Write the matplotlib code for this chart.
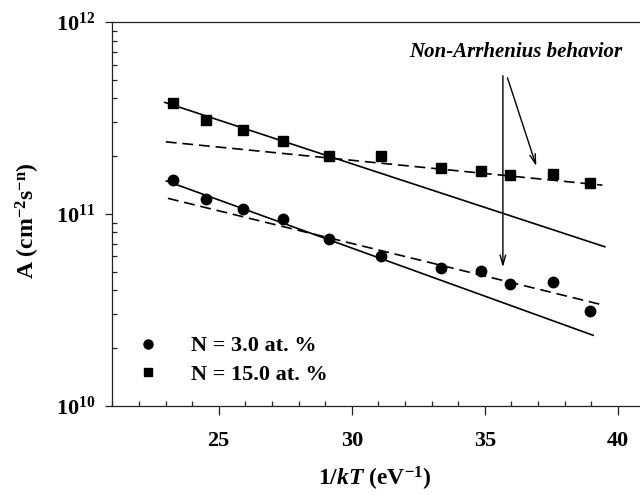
import numpy as np
import matplotlib
matplotlib.use("Agg")
import matplotlib.pyplot as plt
from matplotlib.ticker import FixedLocator, FixedFormatter, MultipleLocator, LogLocator, NullFormatter
from matplotlib.lines import Line2D

plt.rcParams["font.family"] = ["Liberation Serif", "DejaVu Serif"]
plt.rcParams["font.weight"] = "bold"
plt.rcParams["mathtext.fontset"] = "custom"
plt.rcParams["mathtext.rm"] = "Liberation Serif:bold"
plt.rcParams["mathtext.bf"] = "Liberation Serif:bold"
plt.rcParams["mathtext.it"] = "Liberation Serif:bold:italic"

# 1/kT (eV^-1) of each measurement
inv_kT = [23.29, 24.53, 25.90, 27.43, 29.16, 31.11, 33.35, 34.85, 35.93, 37.58, 38.94]
# pre-exponential factor A (cm^-2 s^-n)
A_n3 = [1.50e11, 1.19e11, 1.06e11, 9.34e10, 7.39e10, 6.01e10, 5.20e10, 5.05e10, 4.31e10, 4.43e10, 3.13e10]
A_n15 = [3.78e11, 3.07e11, 2.73e11, 2.40e11, 2.01e11, 2.01e11, 1.73e11, 1.67e11, 1.59e11, 1.62e11, 1.45e11]

# Arrhenius fits A = A0 * exp(-Ea / kT): (A0, Ea in eV, x start, x end, style)
fit_n15_solid = (4.23e12, 0.1048, 22.97, 39.51, "-")
fit_n15_dash = (4.92e11, 0.0317, 23.01, 39.42, "--")
fit_n3_solid = (2.12e12, 0.1155, 23.03, 39.07, "-")
fit_n3_dash = (7.34e11, 0.0783, 23.09, 39.30, "--")
fits = [fit_n15_solid, fit_n15_dash, fit_n3_solid, fit_n3_dash]

legend_labels = ["N = 3.0 at. %", "N = 15.0 at. %"]
x_ticks = [25, 30, 35, 40]
y_ticks = [1e10, 1e11, 1e12]
y_tick_labels = [r"$\mathbf{10^{10}}$", r"$\mathbf{10^{11}}$", r"$\mathbf{10^{12}}$"]

fig = plt.figure(figsize=(6.4, 4.95), dpi=100)
ax = fig.add_axes([0.1755, 0.1806, 0.873, 0.775])

for a0, ea, x0, x1, ls in fits:
    xs = np.linspace(x0, x1, 50)
    line, = ax.plot(xs, a0 * np.exp(-ea * xs), color="black", lw=1.2, ls=ls)
    if ls == "--":
        line.set_dashes((6.5, 3.5))

ax.plot(inv_kT, A_n3, "o", color="black", ms=7.5, ls="none")
ax.plot(inv_kT, A_n15, "s", color="black", ms=7.0, ls="none")

ax.set_yscale("log")
ax.set_xlim(21, 42)
ax.set_ylim(1e10, 1e12)

ax.spines["right"].set_visible(False)
for s in ["left", "bottom", "top"]:
    ax.spines[s].set_linewidth(0.9)
    ax.spines[s].set_color("#222222")

ax.xaxis.set_major_locator(FixedLocator(x_ticks))
ax.xaxis.set_minor_locator(MultipleLocator(1))
ax.yaxis.set_major_locator(FixedLocator(y_ticks))
ax.yaxis.set_major_formatter(FixedFormatter(y_tick_labels))
ax.yaxis.set_minor_locator(LogLocator(base=10, subs=np.arange(2, 10)))
ax.yaxis.set_minor_formatter(NullFormatter())

ax.tick_params(which="major", direction="out", length=5, width=0.9, color="#222222",
               labelsize=16, top=False, right=False)
ax.tick_params(axis="x", which="major", length=6.5, pad=12)
ax.tick_params(axis="y", which="major", pad=7)
ax.tick_params(which="minor", direction="in", length=3.5, width=0.9, color="#222222",
               top=False, right=False)
for lbl in ax.get_xticklabels():
    lbl.set_fontweight("bold")

# annotation arrows
ax.annotate("", xy=(35.68, 5.09e10), xytext=(35.68, 5.42e11),
            arrowprops=dict(arrowstyle="->,head_length=0.7,head_width=0.2", color="black", lw=1.0))
ax.annotate("", xy=(36.97, 1.716e11), xytext=(35.82, 5.28e11),
            arrowprops=dict(arrowstyle="->,head_length=0.7,head_width=0.2", color="black", lw=1.0))
ax.text(36.17, 6.95e11, "Non-Arrhenius behavior", ha="center", va="center",
        fontsize=15, fontweight="bold", fontstyle="italic")

handles = [Line2D([], [], marker="o", color="black", ls="none", ms=6.5),
           Line2D([], [], marker="s", color="black", ls="none", ms=5.5)]
ax.legend(handles, legend_labels, loc="upper left", bbox_to_anchor=(0.028, 0.205),
          frameon=False, fontsize=16, handlelength=1.0, handletextpad=1.45,
          labelspacing=0.35, borderaxespad=0)

fig.text(28 / 640, 1 - 221 / 495, r"A (cm$^{\mathbf{-2}}$s$^{\mathbf{-n}}$)", rotation=90,
         ha="center", va="center", fontsize=17, fontweight="bold")
fig.text(375 / 640, 1 - 479 / 495, r"1/$\mathit{kT}$ (eV$^{\mathbf{-1}}$)",
         ha="center", va="center", fontsize=17, fontweight="bold")

fig.savefig("out.png", dpi=100)
